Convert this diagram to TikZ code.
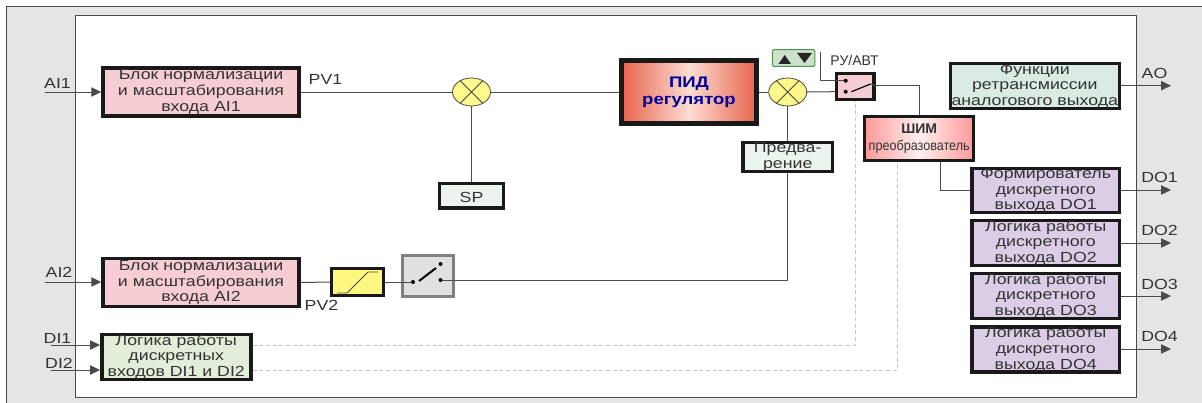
\documentclass[tikz,border=0pt]{standalone}
\usepackage{fontspec}
\setmainfont[FakeStretch=1.21]{Liberation Sans}
\newfontfamily\narrowfont[FakeStretch=0.9]{Liberation Sans}
\newfontfamily\plainfont{Liberation Sans}
\usetikzlibrary{arrows.meta,shapes.geometric}

\definecolor{linegray}{HTML}{4A4A4A}
\definecolor{textgray}{HTML}{333333}
\definecolor{pinkfill}{HTML}{F6CDD2}
\definecolor{violetfill}{HTML}{DCCDE6}
\definecolor{logicfill}{HTML}{E2EEDA}
\definecolor{funcfill}{HTML}{DAEBE4}
\definecolor{lightfill}{HTML}{EBF4EE}
\definecolor{pidred}{HTML}{E8644E}
\definecolor{pidmid}{HTML}{FBDDD2}
\tikzset{
  box/.style 2 args={draw=black!90,line width=2.6pt,inner sep=0pt,align=center,text=textgray,
    font=\fontsize{11}{11.7}\selectfont,execute at begin node={\rule{0pt}{10.5pt}},
    minimum width=#1*0.75pt-2.6pt,minimum height=#2*0.75pt-2.6pt},
  sumnode/.style={ellipse,draw=linegray,fill=yellow!45,line width=0.6pt,inner sep=0pt,
    minimum width=28.5pt,minimum height=21pt},
  wire/.style={draw=linegray,line width=0.75pt},
  dashwire/.style={draw=gray!45,line width=0.6pt,densely dashed},
  ioarrow/.style={wire,-{Triangle[length=7.5pt,width=7pt]}},
  lbl/.style={inner sep=0pt,text=textgray,font=\fontsize{11}{12}\selectfont}
}

\begin{document}
\begin{tikzpicture}[x=0.75pt,y=-0.75pt]
        \useasboundingbox (0,0) rectangle (1202,403);
        \fill [white] (0,0) rectangle (1202,403);
        \fill [black!10] (6.5,7) rectangle (1202,403);
        \draw [linegray,line width=0.75pt] (6.5,403) -- (6.5,7) -- (1202,7);
        \draw [linegray,fill=white,line width=0.75pt] (75.8,16) rectangle (1136.3,397);

        % input blocks
        \node [box={199.5}{51},fill=pinkfill] (norm1) at (201,92) {Блок нормализации\\и масштабирования\\входа AI1};
        \node [box={199.5}{51},fill=pinkfill] (norm2) at (201,282.5) {Блок нормализации\\и масштабирования\\входа AI2};
        \node [box={152.5}{48},fill=logicfill] (logic) at (176.3,357) {Логика работы\\дискретных\\входов DI1 и DI2};
        \node [box={67}{28},fill=lightfill] (sp) at (471.5,195.5) {SP};
        \node [sumnode] (sum1) at (471.5,92) {};
        \node [box={55}{30},fill=yellow!50] (limit) at (357.5,282) {};
        \node [box={54.7}{44},draw=gray,fill=black!12] (sw2) at (428,276) {};

        % controller
        \node [box={138}{66},line width=3.4pt,left color=pidred,right color=pidred,middle color=pidmid,
          text=blue!60!black,font=\bfseries\fontsize{11.5}{16}\selectfont] (pid) at (689,92)
          {ПИД\\[-3.5pt]регулятор};
        \node [sumnode] (sum2) at (787.7,92) {};
        \node [box={93}{32},fill=lightfill] (ahead) at (787.7,157) {Предва-\\рение};
        \node [box={40.6}{29},fill=pinkfill] (ru) at (855.3,86.5) {};
        \node [draw=green!40!black!70,fill=green!40!black!20,rounded corners=1pt,line width=0.75pt,
          minimum width=32pt,minimum height=12.5pt,inner sep=0pt] (updown) at (793.6,58) {};
        \node [lbl,font=\plainfont\fontsize{10.5}{12}\selectfont] (rulbl) at (854.5,60) {РУ/АВТ};
        \node [box={112.4}{47},left color=red!40,right color=red!40,middle color=red!6,
          font=\fontsize{10.5}{12.5}\selectfont] (pwm) at (919.2,138.5)
          {\textbf{\plainfont ШИМ}\\\narrowfont\fontsize{10.5}{12.5}\selectfont преобразователь};

        % output blocks
        \node [box={172.4}{48},fill=funcfill] (func) at (1034.8,86) {Функции\\ретрансмиссии\\аналогового выхода};
        \node [box={150.6}{47},fill=violetfill] (do1) at (1045.7,190.5) {Формирователь\\дискретного\\выхода DO1};
        \node [box={150.6}{48},fill=violetfill] (do2) at (1045.7,243) {Логика работы\\дискретного\\выхода DO2};
        \node [box={150.6}{48},fill=violetfill] (do3) at (1045.7,296) {Логика работы\\дискретного\\выхода DO3};
        \node [box={150.6}{47},fill=violetfill] (do4) at (1045.7,349.5) {Логика работы\\дискретного\\выхода DO4};

        % labels
        \node [lbl] (ai1lbl) at (57.5,83) {AI1};
        \node [lbl] (ai2lbl) at (59,272) {AI2};
        \node [lbl] (di1lbl) at (57.5,338) {DI1};
        \node [lbl] (di2lbl) at (59,363) {DI2};
        \node [lbl] (pv1lbl) at (325.5,79) {PV1};
        \node [lbl] (pv2lbl) at (321.5,305) {PV2};
        \node [lbl] (aolbl) at (1154.5,73) {AO};
        \node [lbl] (do1lbl) at (1159.5,177) {DO1};
        \node [lbl] (do2lbl) at (1159.5,230) {DO2};
        \node [lbl] (do3lbl) at (1159.5,284) {DO3};
        \node [lbl] (do4lbl) at (1159.5,336) {DO4};

        % free ends and corners
        \coordinate (ai1) at (45,92);
        \coordinate (ai2) at (45,282);
        \coordinate (di1) at (50.5,345);
        \coordinate (di2) at (50.5,370);
        \coordinate (aoend) at (1171,85.7);
        \coordinate (do1end) at (1171,190);
        \coordinate (do2end) at (1171,243);
        \coordinate (do3end) at (1171,296);
        \coordinate (do4end) at (1171,349);
        \coordinate (dashb) at (897.5,370);
        \coordinate (sw2in) at (413,282);
        \coordinate (sw2out) at (440.5,280);
        \coordinate (ruin1) at (845.7,80.7);
        \coordinate (ruin2) at (845.7,91.7);
        \coordinate (updn) at (820,52);
        \coordinate (ruout) at (875.6,85.7);
        \coordinate (pwmturn) at (940,190);

        % inputs and outputs
        \draw [ioarrow] (ai1) -- (ai1 -| norm1.west);
        \draw [ioarrow] (ai2) -- (ai2 -| norm2.west);
        \draw [ioarrow] (di1) -- (di1 -| logic.west);
        \draw [ioarrow] (di2) -- (di2 -| logic.west);
        \draw [ioarrow] (aoend -| func.east) -- (aoend);
        \draw [ioarrow] (do1end -| do1.east) -- (do1end);
        \draw [ioarrow] (do2end -| do2.east) -- (do2end);
        \draw [ioarrow] (do3end -| do3.east) -- (do3end);
        \draw [ioarrow] (do4end -| do4.east) -- (do4end);

        % signal lines
        \draw [wire] (norm1.east) -- (sum1.west);
        \draw [wire] (sum1.east) -- (pid.west);
        \draw [wire] (sum1.south) -- (sp.north);
        \draw [wire] (pid.east) -- (sum2.west);
        \draw [wire] (sum2.south) -- (ahead.north);
        \draw [wire] (sum2.east) -- (ruin2 -| ru.west);
        \draw [wire] (norm2.east) -- (limit.west);
        \draw [wire] (limit.east) -- (sw2in);
        \draw [wire] (sw2out) -- (sw2out -| ahead.south) -- (ahead.south);
        \draw [wire] (updn) -- (updn |- ruin1) -- (ruin1);
        \draw [wire] (ruout) -- (ruout -| pwm.north) -- (pwm.north);
        \draw [wire] (pwm.south -| pwmturn) -- (pwmturn) -- (do1.west |- pwmturn);
        \draw [dashwire] (di1 -| logic.east) -- (di1 -| ru.south) -- (ru.south);
        \draw [dashwire] (di2 -| logic.east) -- (dashb) -- (dashb |- pwm.south);

        % crosses in the summers
        \draw [wire,line width=0.6pt] (sum1.45) -- (sum1.225) (sum1.135) -- (sum1.315);
        \draw [wire,line width=0.6pt] (sum2.45) -- (sum2.225) (sum2.135) -- (sum2.315);

        % limiter curve
        \draw [linegray,line width=0.6pt] (337,293) -- (347,293) -- (368,272) -- (378,272);

        % first switch
        \fill [black] (sw2in) circle (2) (440.5,264) circle (2) (sw2out) circle (2);
        \draw [black,line width=1.5pt] (419,281) -- (436,268);

        % second switch
        \fill [black] (ruin1) circle (2) (ruin2) circle (2);
        \draw [black,line width=0.9pt] (851.4,91.7) -- (870.6,84);
        \draw [linegray,line width=0.75pt] (870.6,84) -- (ruout);

        % up and down keys
        \fill [black!85] (778.5,64) -- (791,64) -- (784.7,55) -- cycle;
        \fill [black!85] (797,53) -- (812,53) -- (804.5,63) -- cycle;
\end{tikzpicture}
\end{document}
